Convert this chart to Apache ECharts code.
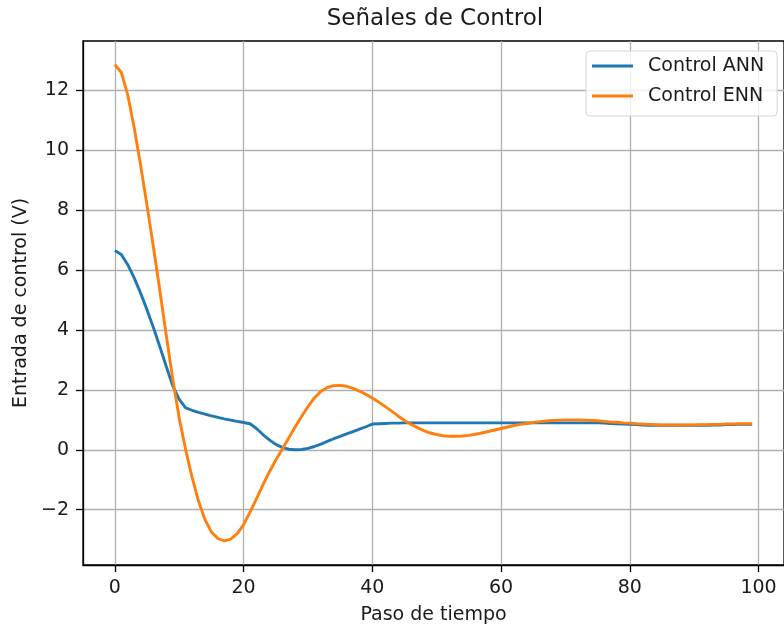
<!DOCTYPE html>
<html>
<head>
<meta charset="utf-8">
<script src="https://cdn.jsdelivr.net/npm/echarts@6/dist/echarts.min.js"></script>
<style>
html,body{margin:0;padding:0;background:#fff;}
#chart{width:784px;height:630px;}
</style>
</head>
<body>
<div id="chart"></div>
<script>
const titleText = "Señales de Control";
const xName = "Paso de tiempo";
const yName = "Entrada de control (V)";
const seriesNames = ["Control ANN", "Control ENN"];
const xTicks = [0, 20, 40, 60, 80, 100];
const yTicks = [-2, 0, 2, 4, 6, 8, 10, 12];
const steps = [0,1,2,3,4,5,6,7,8,9,10,11,12,13,14,15,16,17,18,19,20,21,22,23,24,25,26,27,28,29,30,31,32,33,34,35,36,37,38,39,40,41,42,43,44,45,46,47,48,49,50,51,52,53,54,55,56,57,58,59,60,61,62,63,64,65,66,67,68,69,70,71,72,73,74,75,76,77,78,79,80,81,82,83,84,85,86,87,88,89,90,91,92,93,94,95,96,97,98,99];
const annValues = [
  6.65, 6.52, 6.18, 5.74, 5.23, 4.67, 4.07, 3.43, 2.77, 2.13,
  1.68, 1.40, 1.32, 1.25, 1.19, 1.13, 1.08, 1.03, 0.99, 0.95,
  0.91, 0.87, 0.71, 0.51, 0.33, 0.18, 0.08, 0.02, 0.00, 0.01,
  0.05, 0.11, 0.19, 0.28, 0.37, 0.45, 0.53, 0.61, 0.69, 0.77,
  0.86, 0.87, 0.88, 0.89, 0.89, 0.90, 0.90, 0.90, 0.90, 0.90,
  0.90, 0.90, 0.90, 0.90, 0.90, 0.90, 0.90, 0.90, 0.90, 0.90,
  0.90, 0.90, 0.90, 0.90, 0.90, 0.90, 0.90, 0.90, 0.90, 0.90,
  0.90, 0.90, 0.90, 0.90, 0.90, 0.90, 0.89, 0.88, 0.87, 0.86,
  0.85, 0.84, 0.83, 0.82, 0.82, 0.82, 0.82, 0.82, 0.82, 0.82,
  0.82, 0.82, 0.82, 0.83, 0.83, 0.84, 0.84, 0.85, 0.85, 0.85
];
const ennValues = [
  12.85, 12.60, 11.85, 10.75, 9.50, 8.15, 6.75, 5.30, 3.80, 2.35,
  1.05, 0.00, -0.92, -1.72, -2.33, -2.74, -2.96, -3.04, -2.98, -2.80,
  -2.50, -2.08, -1.63, -1.17, -0.74, -0.34, 0.02, 0.39, 0.76, 1.11,
  1.44, 1.73, 1.95, 2.08, 2.14, 2.15, 2.12, 2.05, 1.96, 1.85,
  1.73, 1.59, 1.44, 1.29, 1.13, 0.98, 0.85, 0.74, 0.64, 0.56,
  0.51, 0.47, 0.45, 0.45, 0.46, 0.48, 0.52, 0.56, 0.61, 0.66,
  0.71, 0.76, 0.81, 0.85, 0.88, 0.91, 0.94, 0.96, 0.98, 0.99,
  1.00, 1.00, 1.00, 0.99, 0.98, 0.97, 0.95, 0.93, 0.92, 0.90,
  0.89, 0.87, 0.86, 0.85, 0.84, 0.83, 0.83, 0.83, 0.83, 0.83,
  0.83, 0.84, 0.84, 0.85, 0.85, 0.86, 0.86, 0.87, 0.87, 0.87
];
const colors = ["#1f77b4", "#ff7f0e"];

const FONT = "DejaVu Sans";
const chart = echarts.init(document.getElementById('chart'), null, {renderer: 'canvas'});
const fmt = v => String(v).replace('-', '\u2212');
const pairs = vals => steps.map((s, i) => [s, vals[i]]);

chart.setOption({
  animation: false,
  backgroundColor: '#ffffff',
  title: {
    text: titleText,
    left: 435, textAlign: 'center',
    top: 8, padding: 0,
    textStyle: {fontFamily: FONT, fontSize: 23, fontWeight: 'normal', color: '#1a1a1a'}
  },
  grid: {
    left: 83, top: 41, width: 704, height: 524,
    show: true, borderColor: '#000', borderWidth: 1.3, backgroundColor: 'transparent'
  },
  legend: {
    orient: 'vertical',
    left: 586, top: 51,
    padding: [5, 13, 10, 6],
    itemGap: 10,
    itemWidth: 41, itemHeight: 3,
    icon: 'rect',
    backgroundColor: 'rgba(255,255,255,0.8)',
    borderColor: '#d5d5d5', borderWidth: 1, borderRadius: 4,
    textStyle: {fontFamily: FONT, fontSize: 19, color: '#1a1a1a', padding: [0, 0, 0, 10], lineHeight: 20},
    data: seriesNames
  },
  xAxis: {
    type: 'value',
    min: -4.95, max: 103.95,
    name: xName, nameLocation: 'middle', nameGap: 41,
    nameTextStyle: {fontFamily: FONT, fontSize: 19, color: '#1a1a1a'},
    axisLine: {show: true, onZero: false, lineStyle: {color: '#000', width: 1.3}},
    axisTick: {show: true, length: 7, lineStyle: {color: '#000', width: 1.3}, customValues: xTicks},
    axisLabel: {fontFamily: FONT, fontSize: 19, color: '#1a1a1a', margin: 14, customValues: xTicks, formatter: fmt},
    splitLine: {show: true, lineStyle: {color: '#b0b0b0', width: 1.3}}
  },
  yAxis: {
    type: 'value',
    min: -3.845, max: 13.645,
    name: yName, nameLocation: 'middle', nameGap: 52,
    nameTextStyle: {fontFamily: FONT, fontSize: 19, color: '#1a1a1a'},
    axisLine: {show: true, onZero: false, lineStyle: {color: '#000', width: 1.3}},
    axisTick: {show: true, length: 7, lineStyle: {color: '#000', width: 1.3}, customValues: yTicks},
    axisLabel: {fontFamily: FONT, fontSize: 19, color: '#1a1a1a', margin: 14, customValues: yTicks, formatter: fmt},
    splitLine: {show: true, lineStyle: {color: '#b0b0b0', width: 1.3}}
  },
  series: [
    {name: seriesNames[0], type: 'line', data: pairs(annValues), showSymbol: false, symbol: 'none',
     color: colors[0], lineStyle: {color: colors[0], width: 2.9}, z: 3},
    {name: seriesNames[1], type: 'line', data: pairs(ennValues), showSymbol: false, symbol: 'none',
     color: colors[1], lineStyle: {color: colors[1], width: 2.9}, z: 4}
  ]
});
</script>
</body>
</html>
